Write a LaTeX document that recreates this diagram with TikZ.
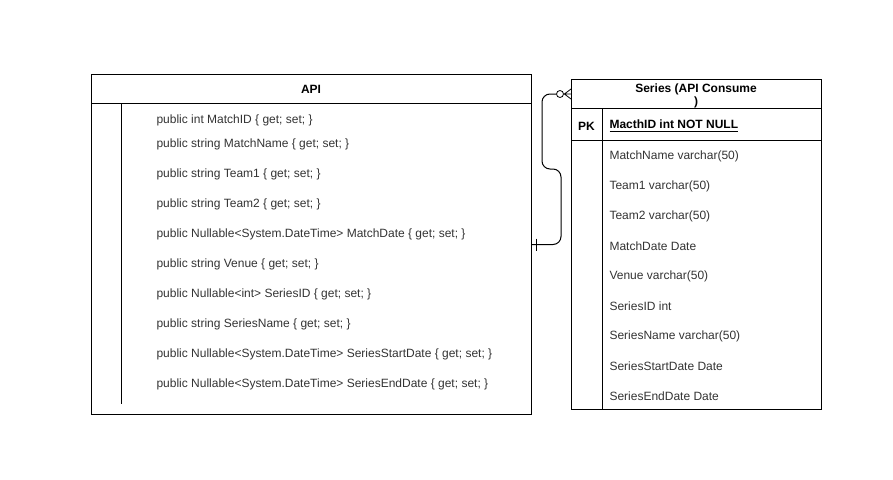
\documentclass[tikz,border=0pt]{standalone}
\usepackage{fontspec}
\setmainfont{Liberation Sans}
\usepackage{tikz}
\usetikzlibrary{calc}

\begin{document}
\begin{tikzpicture}[
  x=0.75pt,
  y=-0.75pt,
  line width=0.75pt,
  every node/.style={
    font=\fontsize{9}{11}\selectfont,
    inner sep=0pt,
  },
  table box/.style={
    draw=black,
    anchor=north west,
  },
  field/.style={
    anchor=west,
    text=black!80,
  },
]
\useasboundingbox (0,0) rectangle (893,479);
\node[table box,minimum width=330pt,minimum height=255pt] (api) at (91,74) {};
\node[table box,minimum width=187.5pt,minimum height=247.5pt] (series) at (571,79) {};
\draw (api.north west) ++(0,29) coordinate (apiHead) -- (apiHead -| api.east);
\draw (apiHead -| 121,0) -- (121,404);
\node[font=\fontsize{9}{11}\selectfont\bfseries] (apiTitle) at (311,89.5) {API};
\foreach \y/\txt [count=\i] in {
  120/{public int MatchID \{ get; set; \}},
  144/{public string MatchName \{ get; set; \}},
  174/{public string Team1 \{ get; set; \}},
  204/{public string Team2 \{ get; set; \}},
  234/{public Nullable<System.DateTime> MatchDate \{ get; set; \}},
  264/{public string Venue \{ get; set; \}},
  294/{public Nullable<int> SeriesID \{ get; set; \}},
  324/{public string SeriesName \{ get; set; \}},
  354/{public Nullable<System.DateTime> SeriesStartDate \{ get; set; \}},
  384/{public Nullable<System.DateTime> SeriesEndDate \{ get; set; \}}}
  \node[field] (api\i) at (156,\y) {\txt};
\draw (series.north west) ++(0,29) coordinate (seriesHead) -- (seriesHead -| series.east);
\draw (series.north west) ++(0,61) coordinate (seriesKey) -- (seriesKey -| series.east);
\draw (seriesHead -| 602,0) -- (602,0 |- series.south);
\node[align=center,font=\fontsize{9}{9.75}\selectfont\bfseries] (seriesTitle) at (696,95.5) {Series (API Consume\\)};
\node[font=\fontsize{9}{11}\selectfont\bfseries] (pk) at (586.5,126) {PK};
\node[field,text=black,font=\fontsize{9}{11}\selectfont\bfseries] (key) at (609,126) {\underline{MacthID int NOT NULL}};
\foreach \y/\txt [count=\i] in {
  156/MatchName varchar(50),
  186/Team1 varchar(50),
  216/Team2 varchar(50),
  246/MatchDate Date,
  276/Venue varchar(50),
  306/SeriesID int,
  336/SeriesName varchar(50),
  366/SeriesStartDate Date,
  396/SeriesEndDate Date}
  \node[field] (col\i) at (609,\y) {\txt};
\coordinate (foot) at ($(series.north west)+(0,15)$);
\node[draw,circle,minimum size=5.25pt,line width=0.6pt] (ring) at ($(foot)+(-11,0)$) {};
\draw[rounded corners=6] (api.east) -| (561,169) -| (542,94) -- (ring.west);
\draw ($(api.east)+(4,-6)$) -- ($(api.east)+(4,6)$);
\draw[line width=0.6pt] (ring.east) ++(0.5,0) coordinate (heel)
  -- ($(foot)+(0,-5)$) (heel) -- (foot) (heel) -- ($(foot)+(0,5)$);
\end{tikzpicture}
\end{document}
